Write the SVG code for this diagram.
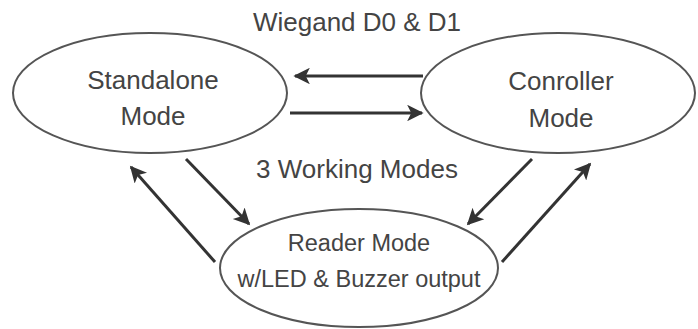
<svg xmlns="http://www.w3.org/2000/svg" width="698" height="329" viewBox="0 0 698 329">
<defs>
<marker id="ah" viewBox="0 0 10 10" refX="9" refY="5" markerWidth="6.5" markerHeight="5.5" orient="auto" markerUnits="strokeWidth">
<path d="M0,0 L10,5 L0,10 L2.5,5 Z" fill="#333"/>
</marker>
<style>
.node ellipse{fill:#fff;stroke:#555;stroke-width:2}
.t{font-family:"Liberation Sans",Arial,sans-serif;fill:#444;text-anchor:middle}
.big{font-size:26px}
.small{font-size:23.5px}
.conn line{stroke:#333;stroke-width:3;marker-end:url(#ah)}
</style>
</defs>
<rect width="698" height="329" fill="#fff"/>
<text class="t big" x="357" y="31">Wiegand D0 &amp; D1</text>
<text class="t big" x="357" y="178">3 Working Modes</text>
<g id="standalone" class="node">
<ellipse cx="150" cy="93" rx="137" ry="60"/>
<text class="t big" x="153" y="89">Standalone</text>
<text class="t big" x="153" y="125">Mode</text>
</g>
<g id="controller" class="node">
<ellipse cx="558" cy="93" rx="137" ry="60"/>
<text class="t big" x="561" y="90">Conroller</text>
<text class="t big" x="561" y="127">Mode</text>
</g>
<g id="reader" class="node">
<ellipse cx="359" cy="268" rx="139" ry="59"/>
<text class="t small" x="359" y="251">Reader Mode</text>
<text class="t small" x="359" y="287">w/LED &amp; Buzzer output</text>
</g>
<g id="connectors" class="conn">
<line x1="423" y1="76" x2="295" y2="76"/>
<line x1="290" y1="113" x2="422" y2="113"/>
<line x1="186" y1="159" x2="249" y2="224"/>
<line x1="215" y1="262" x2="131" y2="167"/>
<line x1="532" y1="159" x2="468" y2="224"/>
<line x1="502" y1="262" x2="590" y2="164"/>
</g>
</svg>
